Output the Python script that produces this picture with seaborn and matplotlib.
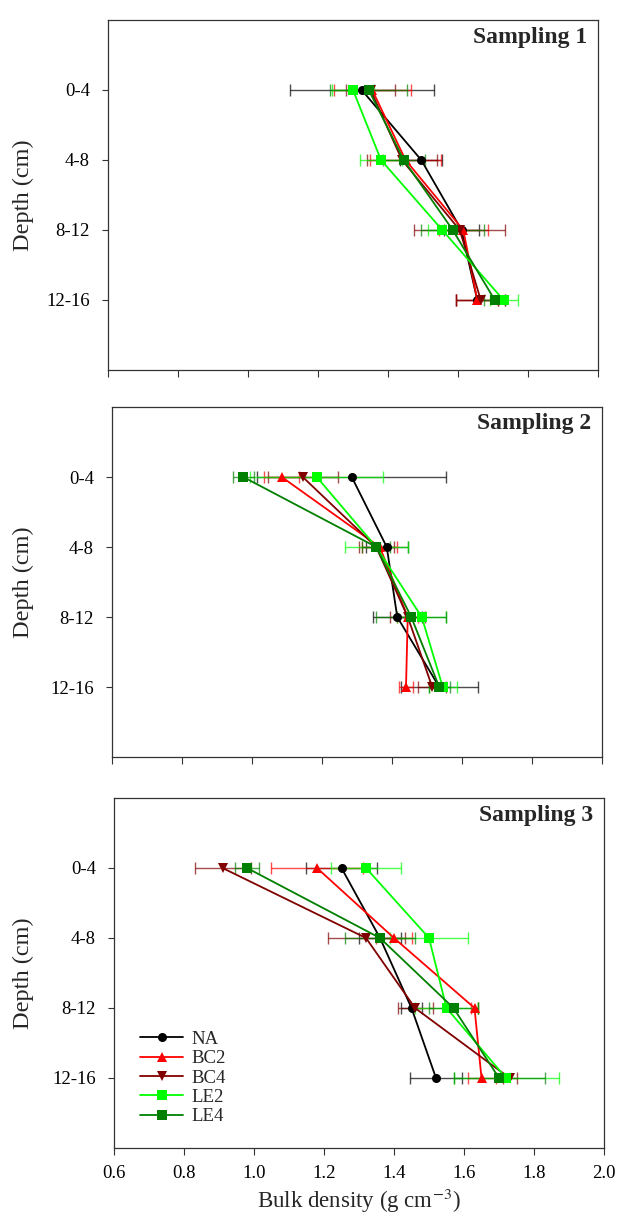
import numpy as np
import pandas as pd
import matplotlib
matplotlib.use("Agg")
import matplotlib.pyplot as plt
import seaborn as sns

depths = ["0-4", "4-8", "8-12", "12-16"]
treatments = ["NA", "BC2", "BC4", "LE2", "LE4"]
panel_titles = ["Sampling 1", "Sampling 2", "Sampling 3"]

# Sampling 1
s1_NA = [1.325, 1.495, 1.61, 1.655]
s1_BC2 = [1.355, 1.45, 1.615, 1.655]
s1_BC4 = [1.35, 1.44, 1.605, 1.665]
s1_LE2 = [1.30, 1.38, 1.555, 1.73]
s1_LE4 = [1.345, 1.445, 1.585, 1.705]
s1_NA_err = [0.205, 0.06, 0.05, 0.06]
s1_BC2_err = [0.11, 0.10, 0.07, 0.06]
s1_BC4_err = [0.07, 0.10, 0.13, 0.07]
s1_LE2_err = [0.06, 0.06, 0.04, 0.04]
s1_LE4_err = [0.11, 0.06, 0.09, 0.03]

# Sampling 2
s2_NA = [1.285, 1.385, 1.415, 1.535]
s2_BC2 = [1.085, 1.365, 1.445, 1.44]
s2_BC4 = [1.145, 1.355, 1.445, 1.515]
s2_LE2 = [1.185, 1.355, 1.485, 1.545]
s2_LE4 = [0.975, 1.355, 1.455, 1.535]
s2_NA_err = [0.27, 0.06, 0.07, 0.11]
s2_BC2_err = [0.05, 0.05, 0.03, 0.02]
s2_BC4_err = [0.10, 0.05, 0.05, 0.04]
s2_LE2_err = [0.19, 0.09, 0.07, 0.04]
s2_LE4_err = [0.03, 0.04, 0.10, 0.03]

# Sampling 3
s3_NA = [1.25, 1.36, 1.45, 1.52]
s3_BC2 = [1.18, 1.40, 1.63, 1.65]
s3_BC4 = [0.91, 1.32, 1.46, 1.73]
s3_LE2 = [1.32, 1.50, 1.55, 1.72]
s3_LE4 = [0.98, 1.36, 1.57, 1.70]
s3_NA_err = [0.10, 0.06, 0.03, 0.075]
s3_BC2_err = [0.13, 0.05, 0.01, 0.04]
s3_BC4_err = [0.08, 0.11, 0.05, 0.02]
s3_LE2_err = [0.10, 0.11, 0.09, 0.15]
s3_LE4_err = [0.035, 0.10, 0.07, 0.13]

x_ticks = [0.6, 0.8, 1.0, 1.2, 1.4, 1.6, 1.8, 2.0]

panels = [
    ([s1_NA, s1_BC2, s1_BC4, s1_LE2, s1_LE4],
     [s1_NA_err, s1_BC2_err, s1_BC4_err, s1_LE2_err, s1_LE4_err]),
    ([s2_NA, s2_BC2, s2_BC4, s2_LE2, s2_LE4],
     [s2_NA_err, s2_BC2_err, s2_BC4_err, s2_LE2_err, s2_LE4_err]),
    ([s3_NA, s3_BC2, s3_BC4, s3_LE2, s3_LE4],
     [s3_NA_err, s3_BC2_err, s3_BC4_err, s3_LE2_err, s3_LE4_err]),
]

colors = {"NA": "#000000", "BC2": "#FF0000", "BC4": "#800000",
          "LE2": "#00FF00", "LE4": "#008000"}
markers = {"NA": "o", "BC2": "^", "BC4": "v", "LE2": "s", "LE4": "s"}

sns.set_theme(style="ticks")
plt.rcParams["font.family"] = ["Liberation Serif", "DejaVu Serif"]
plt.rcParams["mathtext.fontset"] = "stix"

fig = plt.figure(figsize=(6.17, 12.17), dpi=100)
W, H = 617, 1217
lefts = [108, 112, 114]
tops = [20, 407, 798]
wpx = 490
hpx = 350

for i, (vals, errs) in enumerate(panels):
    top = tops[i]
    left = lefts[i]
    ax = fig.add_axes([left / W, 1 - (top + hpx) / H, wpx / W, hpx / H])
    rows = []
    for t, v in zip(treatments, vals):
        for j, d in enumerate(depths):
            rows.append({"treatment": t, "density": v[j], "pos": j + 1})
    df = pd.DataFrame(rows)
    for t, v, e in zip(treatments, vals, errs):
        ax.errorbar(v, np.arange(1, 5), xerr=e, fmt="none",
                    ecolor=colors[t], elinewidth=1.0, capsize=4,
                    capthick=1.0, alpha=0.7, zorder=2)
    sns.lineplot(data=df, x="density", y="pos", hue="treatment",
                 style="treatment", hue_order=treatments,
                 style_order=treatments, palette=colors, markers=markers,
                 dashes=False, orient="y", sort=False, estimator=None,
                 markersize=6.5, markeredgewidth=0, linewidth=1.3,
                 legend=(i == 2), ax=ax, zorder=3)
    ax.set_xlim(0.6, 2.0)
    ax.set_ylim(5, 0)
    ax.set_yticks([1, 2, 3, 4])
    ax.set_yticklabels(depths, fontsize=13.5)
    ax.tick_params(axis="y", direction="out", length=4, width=0.8,
                   pad=9, colors="#333333", labelcolor="black")
    ax.set_xticks(x_ticks)
    ax.tick_params(axis="x", direction="out", length=5, width=0.8,
                   pad=7, colors="#333333", labelcolor="black")
    if i == 2:
        ax.set_xticklabels([f"{x:.1f}" for x in x_ticks], fontsize=13.5)
        ax.set_xlabel("Bulk density (g cm$^{-3}$)", fontsize=16.5, labelpad=4)
        ax.legend(loc="center left", bbox_to_anchor=((140 - left) / wpx, 0.2),
                  frameon=False, fontsize=13.5, handlelength=2.3,
                  labelspacing=0.12, borderaxespad=0, borderpad=0,
                  handletextpad=0.45)
    else:
        ax.set_xticklabels([])
        ax.set_xlabel("")
    ax.set_ylabel("Depth (cm)", fontsize=17.5)
    ax.yaxis.set_label_coords((34 - left) / wpx, 0.5)
    for sp in ax.spines.values():
        sp.set_visible(True)
        sp.set_linewidth(0.9)
        sp.set_color("#333333")
    ax.text(1 - 11 / wpx, 1 - 17 / hpx, panel_titles[i], transform=ax.transAxes,
            ha="right", va="center", fontsize=17, fontweight="bold")

fig.savefig("out.png", dpi=100)
